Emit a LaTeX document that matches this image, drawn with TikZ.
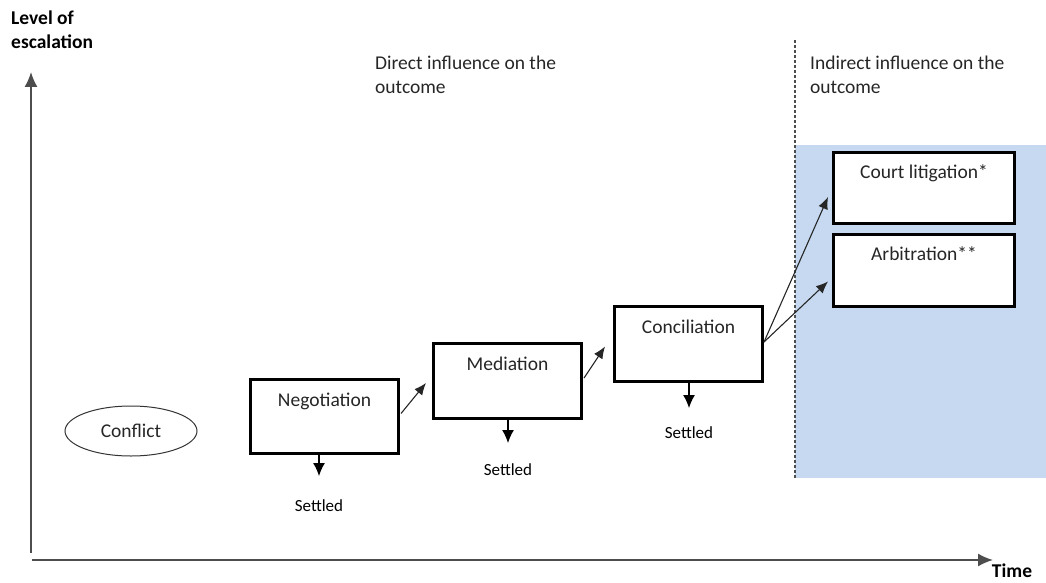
\documentclass[tikz,border=0pt]{standalone}
\usepackage{fontspec}
\setmainfont{Carlito}
\usetikzlibrary{arrows.meta,shapes.geometric,calc}
\definecolor{zoneblue}{HTML}{C6D9F1}
\definecolor{txt}{HTML}{262626}
\definecolor{axisgray}{HTML}{4D4D4D}
\begin{document}
\begin{tikzpicture}[x=1pt,y=-1pt,
  every node/.style={font=\fontsize{19.5}{23.5}\selectfont, text=txt},
  stagebox/.style={draw=black, line width=3pt, fill=white, inner xsep=0pt, inner ysep=0pt,
    minimum width=#1, anchor=north west, align=center, text height=27pt},
  stagebox/.default=148pt,
  conn/.style={line width=1.1pt, draw=black!85, -{Latex[length=12pt,width=10pt]}},
  settle/.style={line width=1.2pt, -{Latex[length=13pt,width=12pt]}},
  axis/.style={line width=1.6pt, draw=axisgray, -{Latex[length=15pt,width=13pt]}},
  settledtxt/.style={font=\fontsize{17}{20}\selectfont, text=black},
  boldtxt/.style={font=\bfseries\fontsize{19.5}{24}\selectfont, text=black}
]
\useasboundingbox (0,0) rectangle (1046,583);

% indirect zone
\fill[zoneblue] (795,145) rectangle (1046,478);
\draw[axisgray, line width=1.2pt, dash pattern=on 3pt off 2pt] (795,40) -- (795,478);

% axes
\draw[axis] (31,553) -- (31,72);
\draw[axis] (32,560) -- (993,560);
\node[boldtxt, anchor=north west, inner sep=0pt, align=left] (ylab) at (11,11) {Level of\\escalation};
\node[boldtxt, inner sep=0pt] (xlab) at (1012,571) {Time};

% zone titles
\node[anchor=north west, inner sep=0pt, align=left] (direct) at (375,56) {Direct influence on the\\outcome};
\node[anchor=north west, inner sep=0pt, align=left] (indirect) at (810,56) {Indirect influence on the\\outcome};

% conflict
\node[draw=black!80, line width=1pt, ellipse, minimum width=132pt, minimum height=50pt, inner sep=0pt] (conf) at (131,431) {Conflict};

% stages
\node[stagebox, text depth=47pt] (neg) at (249,378) {Negotiation};
\node[stagebox, text depth=48pt] (med) at (432,342) {Mediation};
\node[stagebox, text depth=48pt] (conc) at (613,305) {Conciliation};
\node[stagebox=181pt, text depth=45pt, text height=26pt] (court) at (832,151) {Court litigation*};
\node[stagebox=181pt, text depth=46pt, text height=26pt] (arb) at (832,233) {Arbitration**};

% settled
\node[settledtxt] (s1) at (319,506) {Settled};
\node[settledtxt] (s2) at (508,470) {Settled};
\node[settledtxt] (s3) at (689,433) {Settled};
\draw[settle] (neg.south -| s1) -- ++(0,21);
\draw[settle] (med.south -| s2) -- ++(0,23);
\draw[settle] (conc.south -| s3) -- ++(0,25);

% connectors
\draw[conn] ($(neg.east)+(1,-3)$) -- ($(med.west)+(-6,2)$);
\draw[conn] ($(med.east)+(1,-3)$) -- ($(conc.west)+(-8,2.5)$);
\draw[conn] ($(conc.east)+(0,-2)$) -- ($(court.west)+(-4,9)$);
\draw[conn] ($(conc.east)+(0,-2)$) -- ($(arb.west)+(-4,11)$);
\end{tikzpicture}
\end{document}
